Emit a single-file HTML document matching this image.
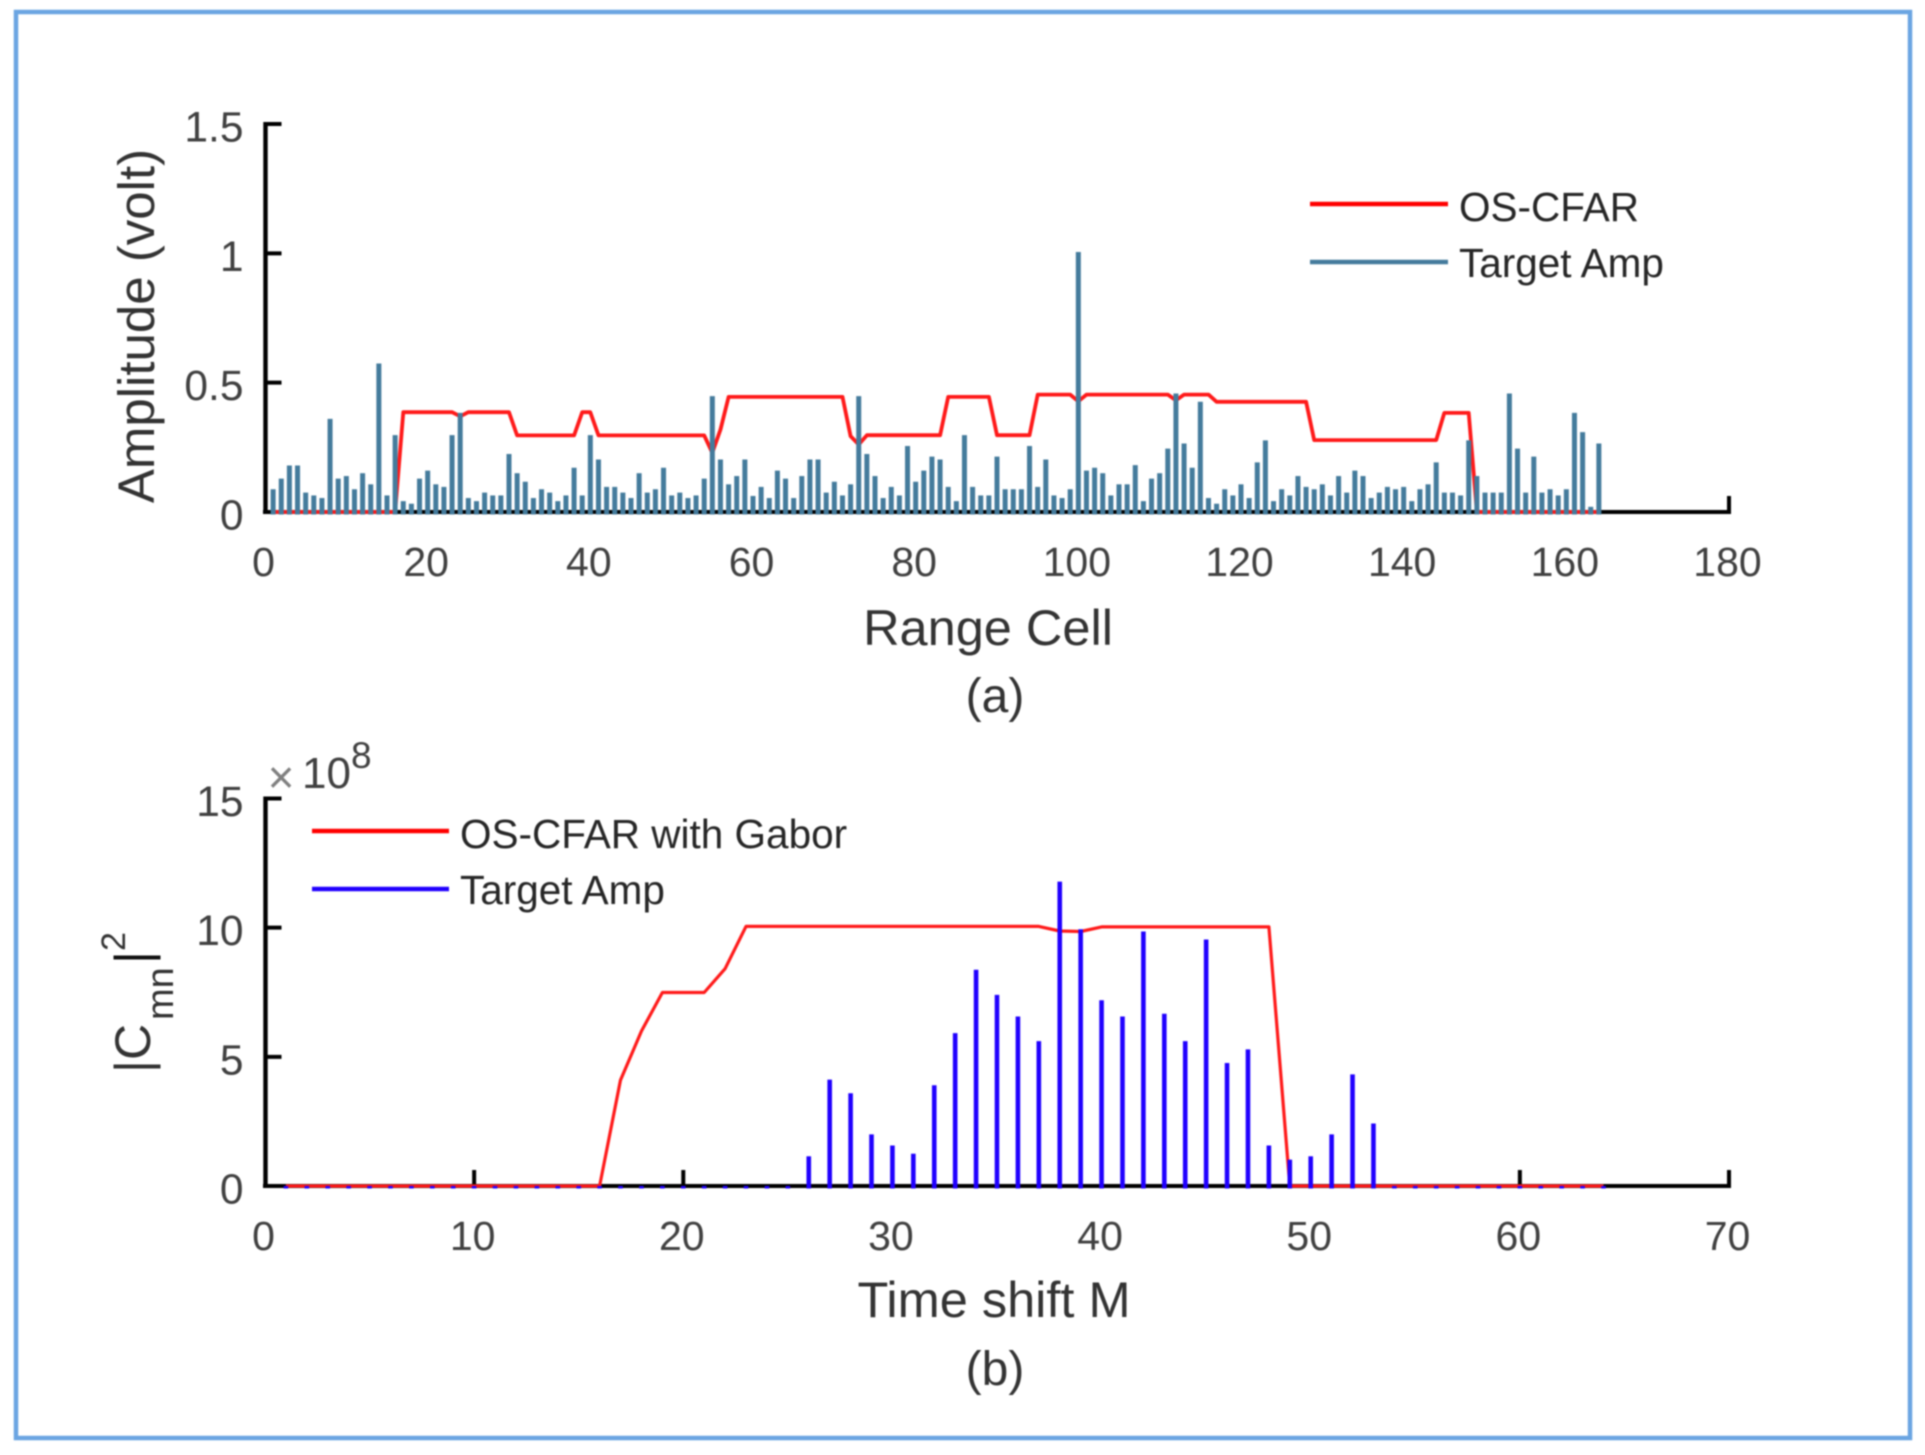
<!DOCTYPE html>
<html lang="en">
<head>
<meta charset="utf-8">
<title>OS-CFAR detection charts</title>
<style>
  html, body { margin: 0; padding: 0; background: #fff; }
  svg { display: block; filter: blur(0.75px); font-family: "Liberation Sans", Arial, sans-serif; }
</style>
</head>
<body>
<svg id="fig" xmlns="http://www.w3.org/2000/svg" width="1925" height="1455" viewBox="0 0 1925 1455">
  <rect x="0" y="0" width="1925" height="1455" fill="#fff"/>
  <rect x="16" y="12" width="1894" height="1426" fill="none" stroke="#6ba5e2" stroke-width="4.5"/>

  <g id="panelA"></g>
  <g id="panelB"></g>

  <text transform="translate(154,326) rotate(-90)" text-anchor="middle" font-size="51" fill="#333">Amplitude (volt)</text>
  <text x="988" y="645" text-anchor="middle" font-size="50.5" fill="#333">Range Cell</text>
  <text x="995" y="712" text-anchor="middle" font-size="48" fill="#333">(a)</text>

  <g>
    <line x1="1310" y1="204" x2="1448" y2="204" stroke="#ff0000" stroke-width="4.5"/>
    <text x="1459" y="221" font-size="40.5" fill="#262626">OS-CFAR</text>
    <line x1="1310" y1="262" x2="1448" y2="262" stroke="#447b9c" stroke-width="4.5"/>
    <text x="1459" y="277" font-size="40.5" fill="#262626">Target Amp</text>
  </g>

  <g transform="translate(150,1073) rotate(-90)" fill="#333">
    <text x="0" y="0" font-size="50">|C</text>
    <text x="53" y="23" font-size="38">mn</text>
    <text x="109" y="0" font-size="50" fill="#111">|</text>
    <text x="122" y="-25" font-size="34">2</text>
  </g>
  <text x="994" y="1317" text-anchor="middle" font-size="50.5" fill="#333">Time shift M</text>
  <text x="995" y="1385" text-anchor="middle" font-size="48" fill="#333">(b)</text>
  <g>
    <text x="281" y="793" text-anchor="middle" font-size="46" fill="#808080">×</text>
    <text x="302" y="788" font-size="44" fill="#404040">10</text>
    <text x="351" y="768" font-size="37" fill="#404040">8</text>
  </g>

  <g>
    <line x1="312" y1="831" x2="449" y2="831" stroke="#ff0000" stroke-width="4.5"/>
    <text x="460" y="848" font-size="40.5" fill="#262626">OS-CFAR with Gabor</text>
    <line x1="312" y1="889" x2="449" y2="889" stroke="#2000ff" stroke-width="4.5"/>
    <text x="460" y="904" font-size="40.5" fill="#262626">Target Amp</text>
  </g>
</svg>
<script>
// Panel (a) data: index 0 is range cell 1
const cellAmplitudes = [
  0.088,0.129,0.18,0.18,0.075,0.064,0.054,0.36,0.129,0.139,
  0.088,0.15,0.107,0.574,0.064,0.297,0.042,0.032,0.129,0.16,
  0.107,0.097,0.297,0.383,0.054,0.042,0.075,0.064,0.064,0.224,
  0.15,0.117,0.054,0.088,0.075,0.042,0.064,0.171,0.064,0.297,
  0.203,0.097,0.097,0.075,0.054,0.15,0.075,0.088,0.171,0.064,
  0.075,0.054,0.064,0.129,0.448,0.203,0.107,0.139,0.203,0.062,
  0.097,0.054,0.16,0.129,0.054,0.139,0.203,0.203,0.075,0.117,
  0.064,0.107,0.448,0.224,0.139,0.054,0.097,0.064,0.255,0.117,
  0.16,0.214,0.203,0.097,0.042,0.297,0.097,0.064,0.064,0.214,
  0.088,0.088,0.088,0.255,0.097,0.203,0.064,0.054,0.088,1.005,
  0.16,0.171,0.15,0.064,0.107,0.107,0.181,0.042,0.129,0.15,
  0.245,0.458,0.265,0.171,0.426,0.054,0.032,0.088,0.064,0.107,
  0.054,0.192,0.277,0.042,0.088,0.064,0.139,0.097,0.088,0.107,
  0.064,0.139,0.075,0.16,0.139,0.054,0.075,0.097,0.088,0.097,
  0.042,0.088,0.107,0.192,0.075,0.075,0.064,0.277,0.139,0.075,
  0.075,0.075,0.458,0.245,0.075,0.214,0.075,0.088,0.064,0.088,
  0.383,0.309,0.02,0.265
];
const cellThreshold = [
  0,0,0,0,0,0,0,0,0,0,0,0,0,0,0,0,
  0.386,0.386,0.386,0.386,0.386,0.386,0.386,0.37,0.386,0.386,0.386,0.386,0.386,0.386,
  0.296,0.296,0.296,0.296,0.296,0.296,0.296,0.296,0.386,0.386,
  0.296,0.296,0.296,0.296,0.296,0.296,0.296,0.296,0.296,0.296,0.296,0.296,0.296,0.296,
  0.229,0.319,
  0.445,0.445,0.445,0.445,0.445,0.445,0.445,0.445,0.445,0.445,0.445,0.445,0.445,0.445,0.445,
  0.293,0.261,
  0.297,0.297,0.297,0.297,0.297,0.297,0.297,0.297,0.297,0.297,
  0.445,0.445,0.445,0.445,0.445,0.445,
  0.297,0.297,0.297,0.297,0.297,
  0.454,0.454,0.454,0.454,0.454,0.428,
  0.454,0.454,0.454,0.454,0.454,0.454,0.454,0.454,0.454,0.454,0.454,0.432,
  0.454,0.454,0.454,0.454,
  0.426,0.426,0.426,0.426,0.426,0.426,0.426,0.426,0.426,0.426,0.426,0.426,
  0.278,0.278,0.278,0.278,0.278,0.278,0.278,0.278,0.278,0.278,0.278,0.278,0.278,0.278,0.278,0.278,
  0.383,0.383,0.383,0.383,
  0,0,0,0,0,0,0,0,0,0,0,0,0,0,0,0
];
const cellTicksX = [0,20,40,60,80,100,120,140,160,180];
const ampTicksY = [0,0.5,1,1.5];
const ampTickLabelsY = ["0","0.5","1","1.5"];

// Panel (b) data: index 0 is time shift 1
const shiftAmplitudes = [
  0,0,0,0,0,0,0,0,0,0,0,0,0,0,0,0,0,0,0,0,0,0,0,0,0,
  1.15,4.12,3.59,2.0,1.57,1.25,3.9,5.92,8.37,7.4,6.56,5.61,11.78,9.94,7.19,
  6.56,9.85,6.67,5.61,9.54,4.76,5.29,1.57,1.02,1.15,2.0,4.32,2.42,
  0,0,0,0,0,0,0,0,0,0,0
];
const shiftThreshold = [
  0,0,0,0,0,0,0,0,0,0,0,0,0,0,0,0,
  4.1,6.0,7.49,7.49,7.49,8.41,10.05,10.05,10.05,10.05,10.05,10.05,10.05,10.05,
  10.05,10.05,10.05,10.05,10.05,10.05,10.05,9.87,9.85,10.03,10.03,10.03,10.03,10.03,
  10.03,10.03,10.03,10.03,
  0,0,0,0,0,0,0,0,0,0,0,0,0,0,0,0
];
const shiftTicksX = [0,10,20,30,40,50,60,70];
const powerTicksY = [0,5,10,15];
const powerTickLabelsY = ["0","5","10","15"];

const SVGNS = "http://www.w3.org/2000/svg";

function makeLine(parent, x1, y1, x2, y2, color, width) {
  const el = document.createElementNS(SVGNS, "line");
  el.setAttribute("x1", x1);
  el.setAttribute("y1", y1);
  el.setAttribute("x2", x2);
  el.setAttribute("y2", y2);
  el.setAttribute("stroke", color);
  el.setAttribute("stroke-width", width);
  parent.appendChild(el);
  return el;
}

function makeLabel(parent, x, y, str, anchor, size) {
  const el = document.createElementNS(SVGNS, "text");
  el.setAttribute("x", x);
  el.setAttribute("y", y);
  el.setAttribute("text-anchor", anchor);
  el.setAttribute("font-size", size);
  el.setAttribute("fill", "#404040");
  el.textContent = str;
  parent.appendChild(el);
  return el;
}

function drawPanel(root, cfg) {
  const sx = function (v) { return cfg.x0 + (v / cfg.xMax) * (cfg.x1 - cfg.x0); };
  const sy = function (v) { return cfg.y0 - (v / cfg.yMax) * (cfg.y0 - cfg.y1); };

  // axes
  const xAxis = makeLine(root, cfg.x0 - 2, cfg.y0, cfg.x1 + 2, cfg.y0, "#000", 4);
  
  
  const yAxis = makeLine(root, cfg.x0 + 0.5, cfg.y0 + 2, cfg.x0 + 0.5, cfg.y1 - 2, "#000", 4.4);
  
  

  // x ticks + labels
  cfg.xTicks.forEach(function (t) {
    if (t !== 0) {
      const tick = makeLine(root, sx(t), cfg.y0, sx(t), cfg.y0 - 16, "#000", 4);
      
      
    }
    const lab = makeLabel(root, sx(t) - 1.5, cfg.y0 + 64, String(t), "middle", 41);
    
    
  });

  // y ticks + labels
  cfg.yTicks.forEach(function (t, i) {
    if (t !== 0) {
      const tick = makeLine(root, cfg.x0, sy(t), cfg.x0 + 16.5, sy(t), "#000", 4);
      
      
    }
    const lab = makeLabel(root, cfg.x0 - 21.5, sy(t) + 17.5, cfg.yLabels[i], "end", 42.5);
    
    
  });

  // threshold line
  const pts = cfg.threshold.map(function (v, i) { return sx(i + 1).toFixed(1) + "," + sy(v).toFixed(1); }).join(" ");
  const line = document.createElementNS(SVGNS, "polyline");
  line.setAttribute("points", pts);
  line.setAttribute("fill", "none");
  line.setAttribute("stroke", "#ff1a1a");
  line.setAttribute("stroke-width", cfg.lineWidth);
  line.setAttribute("stroke-linejoin", "round");
  
  
  root.appendChild(line);

  // stems
  cfg.amps.forEach(function (v, i) {
    const stem = makeLine(root, sx(i + 1), cfg.y0 + 2.5, sx(i + 1), sy(v), cfg.stemColor, cfg.stemWidth);
    
    
  });
}

drawPanel(document.getElementById("panelA"), {
  x0: 265, x1: 1729, y0: 512, y1: 124,
  xMax: 180, yMax: 1.5,
  xTicks: cellTicksX, yTicks: ampTicksY, yLabels: ampTickLabelsY,
  threshold: cellThreshold, amps: cellAmplitudes,
  stemColor: "#447b9c", stemWidth: 5, lineWidth: 3.8
});

drawPanel(document.getElementById("panelB"), {
  x0: 265, x1: 1729, y0: 1186, y1: 798.5,
  xMax: 70, yMax: 15,
  xTicks: shiftTicksX, yTicks: powerTicksY, yLabels: powerTickLabelsY,
  threshold: shiftThreshold, amps: shiftAmplitudes,
  stemColor: "#2000ff", stemWidth: 4.6, lineWidth: 3.2
});
</script>
</body>
</html>
